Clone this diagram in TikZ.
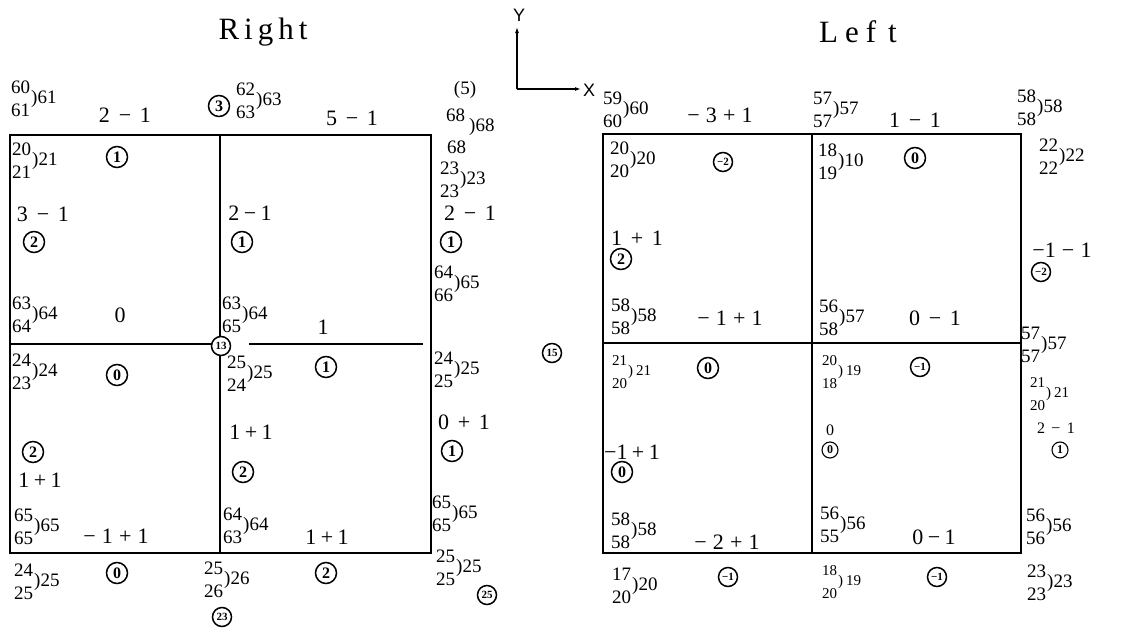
\documentclass[tikz,border=0pt]{standalone}
\usepackage{fontspec}
\setmainfont{Liberation Serif}
\newfontfamily\axf{Liberation Sans}
\usetikzlibrary{arrows.meta}
\newcommand\frc[4][3pt]{$\vcenter{\hbox{#2}\kern#1\hbox{#3}}$\kern1pt)#4}
\newcommand\WS{\hspace{0.4em}}
\newcommand\NS{\hspace{0.2em}}
\newcommand\MS{\hspace{0.28em}}
\begin{document}
\begin{tikzpicture}[x=1pt,y=-1pt,
  wall/.style={line width=2pt},
  axisline/.style={line width=1.3pt,-{Latex[length=6pt,width=4pt]}},
  axl/.style={font=\axf\fontsize{18}{18}\selectfont,inner sep=0},
  lab/.style={font=\fontsize{22}{24}\selectfont,inner sep=0},
  labs/.style={font=\fontsize{16}{17}\selectfont,inner sep=0},
  frs/.style={font=\fontsize{19}{20}\selectfont,inner sep=0,anchor=west},
  frsm/.style={font=\fontsize{15}{16}\selectfont,inner sep=0,anchor=west},
  cn/.style={circle,draw,line width=1.5pt,minimum size=21pt,inner sep=0,font=\bfseries\fontsize{16}{16}\selectfont},
  cnb/.style={cn,minimum size=19pt,font=\bfseries\fontsize{11}{11}\selectfont},
  cns/.style={cn,minimum size=16pt,line width=1.1pt,font=\bfseries\fontsize{12}{12}\selectfont},
  ttl/.style={font=\fontsize{31}{33}\selectfont,inner sep=0}]
\useasboundingbox (0,0) rectangle (1140,629);
% ---------- Right panel walls
\draw[wall] (10,135) rectangle (431,553);
\draw[wall] (220,135) -- (220,553);
\draw[wall] (10,344) -- (212,344);
\draw[wall] (249,344) -- (423,344);
% ---------- Left panel walls
\draw[wall] (603,134) rectangle (1021,553);
\draw[wall] (812,134) -- (812,553);
\draw[wall] (603,343) -- (1021,343);
% ---------- axes
\coordinate (O) at (517,89);
\coordinate (Yt) at (517,27);
\coordinate (Xt) at (581,89);
\draw[axisline] (O) -- (Yt);
\draw[axisline] (O) -- (Xt);
\node[axl] (Y) at (519,15) {Y};
\node[axl] (X) at (589,90) {X};
% ---------- Right panel labels
\node[ttl] (rt) at (263,32) {R\kern5pt i\kern5pt g\kern5pt h\kern5pt t};
\node[frs] (r1) at (11,99) {\frc{60}{61}{61}};
\node[lab] (r2) at (125,115) {2\WS−\WS1};
\node[cn] (r3) at (219,106) {3};
\node[frs] (r4) at (236,101) {\frc{62}{63}{63}};
\node[lab] (r5) at (352,118) {5\WS−\WS1};
\node[frs,anchor=center] (r6) at (465,90) {(5)};
\node[frs] (r7) at (446,115) {68};
\node[frs] (r8) at (469,127) {)68};
\node[frs] (r9) at (447,147) {68};
\node[frs] (r10) at (440,180) {\frc{23}{23}{23}};
\node[lab] (r11) at (470,213) {2\WS−\WS1};
\node[cn] (r12) at (451,242) {1};
\node[frs] (r13) at (434,284) {\frc{64}{66}{65}};
\node[frs] (r14) at (434,370) {\frc{24}{25}{25}};
\node[lab] (r15) at (464,422) {0\WS+\WS1};
\node[cn] (r16) at (452,451) {1};
\node[frs] (r17) at (432,514) {\frc{65}{65}{65}};
\node[frs] (r18) at (436,568) {\frc{25}{25}{25}};
\node[cnb] (r19) at (487,595) {25};
\node[frs] (r20) at (12,161) {\frc{20}{21}{21}};
\node[cn] (r21) at (117,157) {1};
\node[lab] (r22) at (43,214) {3\WS−\WS1};
\node[cn] (r23) at (34,242) {2};
\node[frs] (r24) at (12,315) {\frc{63}{64}{64}};
\node[lab] (r25) at (120,315) {0};
\node[cn] (r26) at (117,375) {0};
\node[frs] (r27) at (12,372) {\frc{24}{23}{24}};
\node[cnb,fill=white] (r28) at (221,346) {13};
\node[lab] (r29) at (250,213) {2\NS−\NS1};
\node[cn] (r30) at (242,242) {1};
\node[frs] (r31) at (222,315) {\frc{63}{65}{64}};
\node[lab] (r32) at (323,327) {1};
\node[cn] (r33) at (326,367) {1};
\node[frs] (r34) at (227,374) {\frc{25}{24}{25}};
\node[lab] (r35) at (251,432) {1\NS+\NS1};
\node[cn] (r36) at (243,472) {2};
\node[frs] (r37) at (223,526) {\frc{64}{63}{64}};
\node[lab] (r38) at (327,537) {1\NS+\NS1};
\node[cn] (r39) at (326,573) {2};
\node[frs] (r40) at (204,580) {\frc{25}{26}{26}};
\node[cnb] (r41) at (222,617) {23};
\node[cn] (r42) at (33,452) {2};
\node[lab] (r43) at (40,480) {1\NS+\NS1};
\node[frs] (r44) at (14,527) {\frc{65}{65}{65}};
\node[lab] (r45) at (116,536) {−\MS1\MS+\MS1};
\node[frs] (r46) at (14,582) {\frc{24}{25}{25}};
\node[cn] (r47) at (117,573) {0};
% ---------- middle
\node[cnb] (m1) at (552,353) {15};
% ---------- Left panel labels
\node[ttl] (lt) at (858,32) {L\kern7pt e\kern7pt f\kern12pt t};
\node[frs] (l1) at (603,110) {\frc{59}{60}{60}};
\node[lab] (l2) at (720,115) {−\MS3\MS+\MS1};
\node[frs] (l3) at (813,110) {\frc{57}{57}{57}};
\node[lab] (l4) at (915,120) {1\WS−\WS1};
\node[frs] (l5) at (1017,108) {\frc{58}{58}{58}};
\node[frs] (l6) at (1039,157) {\frc{22}{22}{22}};
\node[frs] (l7) at (610,160) {\frc{20}{20}{20}};
\node[cnb] (l8) at (723,162) {−2};
\node[frs] (l9) at (818,162) {\frc{18}{19}{10}};
\node[cn] (l10) at (915,158) {0};
\node[lab] (l11) at (637,238) {1\WS+\WS1};
\node[cn] (l12) at (621,259) {2};
\node[lab] (l13) at (1062,250) {−1\MS−\MS1};
\node[cnb] (l14) at (1041,272) {−2};
\node[frs] (l15) at (611,317) {\frc{58}{58}{58}};
\node[lab] (l16) at (730,318) {−\MS1\MS+\MS1};
\node[frs] (l17) at (819,318) {\frc{56}{58}{57}};
\node[lab] (l18) at (935,318) {0\WS−\WS1};
\node[frs] (l19) at (1021,345) {\frc{57}{57}{57}};
\node[frsm] (l20) at (612,372) {\frc[7pt]{21}{20}{\kern3pt 21}};
\node[cn] (l21) at (708,368) {0};
\node[frsm] (l22) at (822,372) {\frc[7pt]{20}{18}{\kern3pt 19}};
\node[cnb] (l23) at (920,367) {−1};
\node[frsm] (l24) at (1030,394) {\frc[7pt]{21}{20}{\kern3pt 21}};
\node[labs] (l25) at (1056,428) {2\WS−\WS1};
\node[cns] (l26) at (1060,450) {1};
\node[labs] (l27) at (830,430) {0};
\node[cns] (l28) at (830,450) {0};
\node[lab] (l29) at (632,452) {−1\NS+\NS1};
\node[cn] (l30) at (622,472) {0};
\node[frs] (l31) at (611,531) {\frc{58}{58}{58}};
\node[lab] (l32) at (727,542) {−\MS2\MS+\MS1};
\node[frs] (l33) at (612,586) {\frc{17}{20}{20}};
\node[cnb] (l34) at (728,577) {−1};
\node[frs] (l35) at (820,525) {\frc{56}{55}{56}};
\node[lab] (l36) at (934,537) {0\NS−\NS1};
\node[frs] (l37) at (1026,527) {\frc{56}{56}{56}};
\node[frsm] (l38) at (822,582) {\frc[7pt]{18}{20}{\kern3pt 19}};
\node[cnb] (l39) at (937,577) {−1};
\node[frs] (l40) at (1027,583) {\frc{23}{23}{23}};
\end{tikzpicture}
\end{document}
